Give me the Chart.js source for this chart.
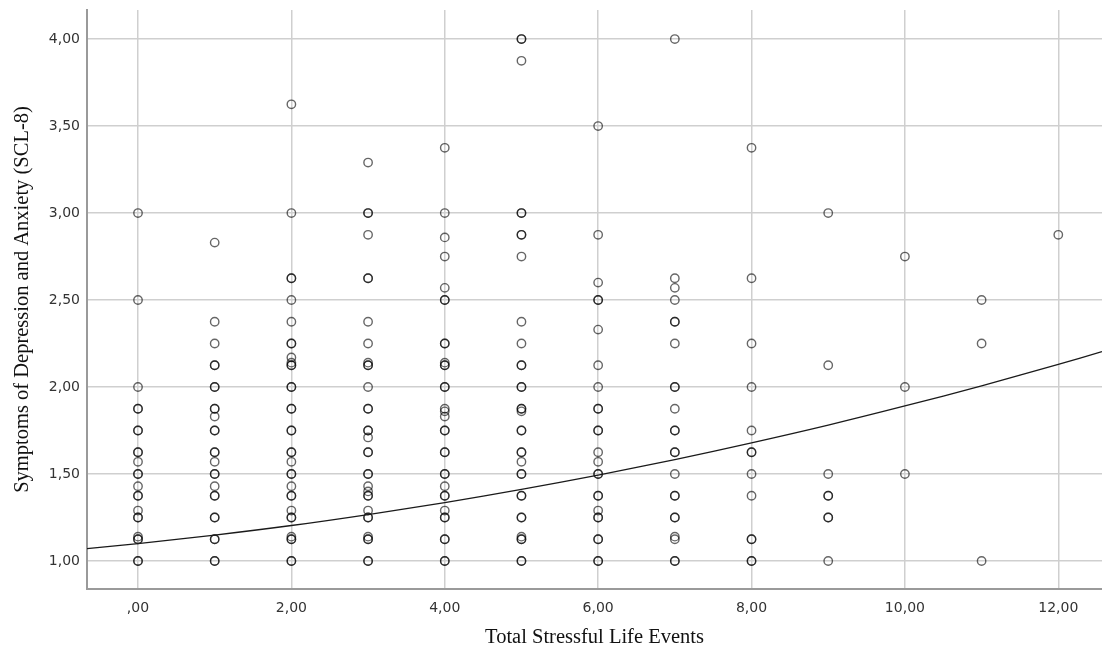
<!DOCTYPE html>
<html>
<head>
<meta charset="utf-8">
<script src="https://cdn.jsdelivr.net/npm/chart.js@4"></script>
<style>
  body { margin: 0; background: #fff; }
  #wrap { width: 1102px; height: 653px; }
</style>
</head>
<body>
<div id="wrap"><canvas id="chart" width="1102" height="653"></canvas></div>
<script>
// stressful life events (x) and SCL-8 scores read per column; repeated values = darker (overlapping) circles
const events = [0, 1, 2, 3, 4, 5, 6, 7, 8, 9, 10, 11, 12];
const scores0 = [3.0, 2.5, 2.0, 1.875, 1.875, 1.75, 1.75, 1.625, 1.625, 1.57, 1.5, 1.5, 1.43, 1.375, 1.375, 1.29, 1.25, 1.25, 1.14, 1.125, 1.125, 1.0, 1.0];
const scores1 = [2.83, 2.375, 2.25, 2.125, 2.125, 2.0, 2.0, 1.875, 1.875, 1.83, 1.75, 1.75, 1.625, 1.625, 1.57, 1.5, 1.5, 1.43, 1.375, 1.375, 1.25, 1.25, 1.125, 1.125, 1.0, 1.0];
const scores2 = [3.625, 3.0, 2.625, 2.625, 2.5, 2.375, 2.25, 2.25, 2.17, 2.14, 2.125, 2.125, 2.0, 2.0, 1.875, 1.875, 1.75, 1.75, 1.625, 1.625, 1.57, 1.5, 1.5, 1.43, 1.375, 1.375, 1.29, 1.25, 1.25, 1.14, 1.125, 1.125, 1.0, 1.0];
const scores3 = [3.29, 3.0, 3.0, 2.875, 2.625, 2.625, 2.375, 2.25, 2.14, 2.125, 2.125, 2.0, 1.875, 1.875, 1.75, 1.75, 1.71, 1.625, 1.625, 1.5, 1.5, 1.43, 1.4, 1.375, 1.375, 1.29, 1.25, 1.25, 1.14, 1.125, 1.125, 1.0, 1.0];
const scores4 = [3.375, 3.0, 2.86, 2.75, 2.57, 2.5, 2.5, 2.25, 2.25, 2.14, 2.125, 2.125, 2.0, 2.0, 1.875, 1.86, 1.83, 1.75, 1.75, 1.625, 1.625, 1.5, 1.5, 1.43, 1.375, 1.375, 1.29, 1.25, 1.25, 1.125, 1.125, 1.0, 1.0];
const scores5 = [4.0, 4.0, 3.875, 3.0, 3.0, 2.875, 2.875, 2.75, 2.375, 2.25, 2.125, 2.125, 2.0, 2.0, 1.875, 1.875, 1.86, 1.75, 1.75, 1.625, 1.625, 1.57, 1.5, 1.5, 1.375, 1.375, 1.25, 1.25, 1.14, 1.125, 1.125, 1.0, 1.0];
const scores6 = [3.5, 2.875, 2.6, 2.5, 2.5, 2.33, 2.125, 2.0, 1.875, 1.875, 1.75, 1.75, 1.625, 1.57, 1.5, 1.5, 1.375, 1.375, 1.29, 1.25, 1.25, 1.125, 1.125, 1.0, 1.0];
const scores7 = [4.0, 2.625, 2.57, 2.5, 2.375, 2.375, 2.25, 2.0, 2.0, 1.875, 1.75, 1.75, 1.625, 1.625, 1.5, 1.375, 1.375, 1.25, 1.25, 1.14, 1.125, 1.0, 1.0];
const scores8 = [3.375, 2.625, 2.25, 2.0, 1.75, 1.625, 1.625, 1.5, 1.375, 1.125, 1.125, 1.0, 1.0];
const scores9 = [3.0, 2.125, 1.5, 1.375, 1.375, 1.25, 1.25, 1.0];
const scores10 = [2.75, 2.0, 1.5];
const scores11 = [2.5, 2.25, 1.0];
const scores12 = [2.875];
const scoreColumns = [scores0, scores1, scores2, scores3, scores4, scores5, scores6,
  scores7, scores8, scores9, scores10, scores11, scores12];

// fit curve
const fitX = [-0.665, 0, 1, 2, 3, 4, 5, 6, 7, 8, 9, 10, 11, 12, 12.57];
const fitY = [1.071, 1.10, 1.149, 1.204, 1.267, 1.336, 1.412, 1.494, 1.583, 1.679, 1.781, 1.891, 2.007, 2.130, 2.203];

const yTicks = [1.0, 1.5, 2.0, 2.5, 3.0, 3.5, 4.0];
const xTicks = [0, 2, 4, 6, 8, 10, 12];

const points = [];
events.forEach((ev, i) => {
  scoreColumns[i].forEach(v => points.push({ x: ev, y: v }));
});
const fitPoints = fitX.map((x, i) => ({ x: x, y: fitY[i] }));

// SPSS style: ",00", "2,00"
const fmt = v => {
  const s = v.toFixed(2).replace('.', ',');
  return s.startsWith('0') ? s.slice(1) : s;
};

const tickFont = { family: 'DejaVu Sans', size: 14 };
const titleFont = { family: 'Liberation Serif', size: 20.5 };

new Chart(document.getElementById('chart').getContext('2d'), {
  type: 'scatter',
  data: {
    datasets: [
      {
        type: 'line',
        label: 'fit',
        data: fitPoints,
        borderColor: '#1a1a1a',
        borderWidth: 1.3,
        pointRadius: 0,
        tension: 0.4,
        fill: false,
        order: 0
      },
      {
        label: 'cases',
        data: points,
        pointStyle: 'circle',
        pointRadius: 4.2,
        pointBorderWidth: 1.4,
        pointBackgroundColor: 'rgba(0,0,0,0)',
        pointBorderColor: 'rgba(0,0,0,0.6)',
        order: 1
      }
    ]
  },
  options: {
    responsive: false,
    animation: false,
    layout: { autoPadding: false, padding: { top: 10, right: 0, left: 0, bottom: 0 } },
    plugins: { legend: { display: false }, tooltip: { enabled: false } },
    scales: {
      x: {
        type: 'linear',
        min: -0.665,
        max: 12.57,
        afterFit: s => { s.height = 64; s.paddingLeft = 0; s.paddingRight = 0; },
        afterBuildTicks: s => { s.ticks = xTicks.map(v => ({ value: v })); },
        ticks: {
          stepSize: 2,
          includeBounds: false,
          autoSkip: false,
          maxRotation: 0,
          padding: 11,
          color: '#333',
          font: tickFont,
          callback: v => fmt(v)
        },
        grid: { color: '#cfcfcf', lineWidth: 1.5, drawTicks: false },
        border: { color: '#9a9a9a', width: 2 },
        title: {
          display: true,
          text: 'Total Stressful Life Events',
          color: '#111',
          font: titleFont,
          padding: { top: 0, bottom: 3 }
        }
      },
      y: {
        type: 'linear',
        min: 0.839,
        max: 4.167,
        afterFit: s => { s.width = 87; s.paddingTop = 0; s.paddingBottom = 0; },
        afterBuildTicks: s => { s.ticks = yTicks.map(v => ({ value: v })); },
        ticks: {
          stepSize: 0.5,
          includeBounds: false,
          autoSkip: false,
          padding: 7,
          color: '#333',
          font: tickFont,
          callback: v => fmt(v)
        },
        grid: { color: '#cfcfcf', lineWidth: 1.5, drawTicks: false },
        border: { color: '#9a9a9a', width: 2 },
        title: {
          display: true,
          text: 'Symptoms of Depression and Anxiety (SCL-8)',
          color: '#111',
          font: titleFont,
          padding: { top: 10, bottom: 0 }
        }
      }
    }
  }
});
</script>
</body>
</html>
